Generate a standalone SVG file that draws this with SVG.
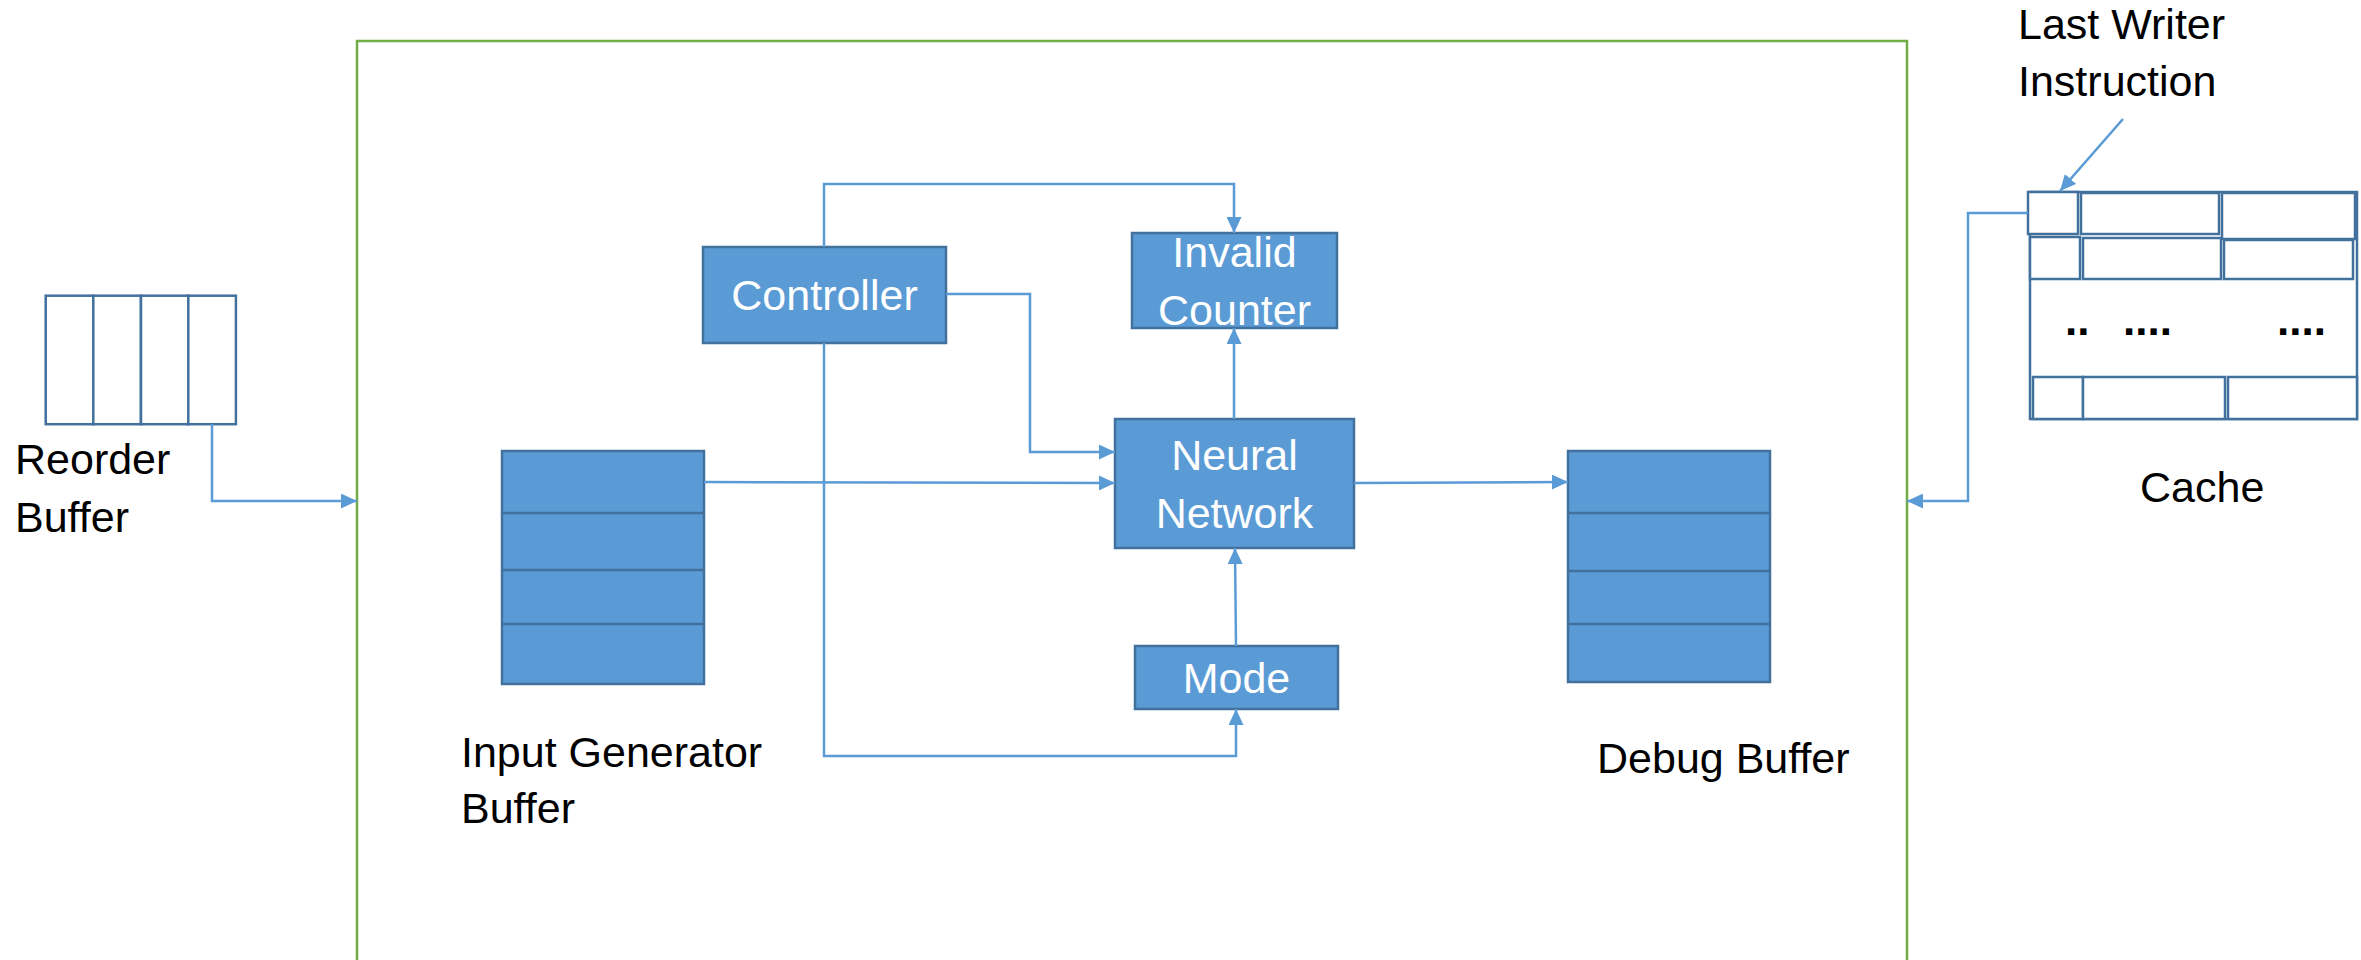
<svg xmlns="http://www.w3.org/2000/svg" width="2361" height="960" viewBox="0 0 2361 960">
<style>
  .lbl { font-family: "Liberation Sans", Arial, sans-serif; font-size: 43px; fill: #000; }
  .wl { font-family: "Liberation Sans", Arial, sans-serif; font-size: 43px; fill: #fff; text-anchor: middle; }
  .node { fill: #5B9BD5; stroke: #41719C; stroke-width: 2.5; }
  .cell { fill: #fff; stroke: #41719C; stroke-width: 2.5; }
  .div { stroke: #41719C; stroke-width: 2.5; fill: none; }
  .conn { fill: none; stroke: #5B9BD5; stroke-width: 2.5; marker-end: url(#arr); }
  .dots { font-family: "Liberation Sans", Arial, sans-serif; font-size: 44px; font-weight: bold; fill: #000; }
</style>
<defs>
  <marker id="arr" markerUnits="userSpaceOnUse" markerWidth="16" markerHeight="15" viewBox="0 0 16 15" refX="16" refY="7.5" orient="auto">
    <path d="M0,0 L16,7.5 L0,15 z" fill="#5B9BD5"/>
  </marker>
</defs>
<rect width="2361" height="960" fill="#fff"/>

<g id="frame">
  <path d="M357,1000 L357,41 L1907,41 L1907,1000" fill="none" stroke="#70AD47" stroke-width="2.5"/>
</g>

<g id="reorder-buffer">
  <rect class="cell" x="45.7" y="295.7" width="47.6" height="128.5"/>
  <rect class="cell" x="93.3" y="295.7" width="47.6" height="128.5"/>
  <rect class="cell" x="141" y="295.7" width="47.6" height="128.5"/>
  <rect class="cell" x="188.3" y="295.7" width="47.6" height="128.5"/>
  <text class="lbl" x="15" y="474">Reorder</text>
  <text class="lbl" x="15" y="532">Buffer</text>
</g>

<g id="cache">
  <rect class="cell" x="2030" y="192" width="327" height="227"/>
  <rect class="cell" x="2028" y="192" width="50" height="42"/>
  <rect class="cell" x="2081" y="193" width="138" height="41"/>
  <rect class="cell" x="2222" y="193" width="133" height="46"/>
  <rect class="cell" x="2030" y="237" width="50" height="42"/>
  <rect class="cell" x="2083" y="238" width="138" height="41"/>
  <rect class="cell" x="2224" y="240" width="129" height="39"/>
  <rect class="cell" x="2033" y="377" width="50" height="42"/>
  <rect class="cell" x="2083" y="377" width="142" height="42"/>
  <rect class="cell" x="2228" y="377" width="129" height="42"/>
  <text class="dots" x="2065" y="335">..</text>
  <text class="dots" x="2123" y="335">....</text>
  <text class="dots" x="2277" y="335">....</text>
  <text class="lbl" x="2140" y="502">Cache</text>
</g>

<g id="last-writer-label">
  <text class="lbl" x="2018" y="39">Last Writer</text>
  <text class="lbl" x="2018" y="96">Instruction</text>
</g>

<g id="input-generator-buffer">
  <rect class="node" x="502" y="451" width="202" height="233"/>
  <path class="div" d="M502,513 H704 M502,570 H704 M502,624 H704"/>
  <text class="lbl" x="461" y="767">Input Generator</text>
  <text class="lbl" x="461" y="823">Buffer</text>
</g>

<g id="debug-buffer">
  <rect class="node" x="1568" y="451" width="202" height="231"/>
  <path class="div" d="M1568,513 H1770 M1568,571 H1770 M1568,624 H1770"/>
  <text class="lbl" x="1597" y="773">Debug Buffer</text>
</g>

<g id="controller">
  <rect class="node" x="703" y="247" width="243" height="96"/>
  <text class="wl" x="824.5" y="310">Controller</text>
</g>

<g id="invalid-counter">
  <rect class="node" x="1132" y="233" width="205" height="95"/>
  <text class="wl" x="1234.5" y="267">Invalid</text>
  <text class="wl" x="1234.5" y="325">Counter</text>
</g>

<g id="neural-network">
  <rect class="node" x="1115" y="419" width="239" height="129"/>
  <text class="wl" x="1234.5" y="470">Neural</text>
  <text class="wl" x="1234.5" y="528">Network</text>
</g>

<g id="mode">
  <rect class="node" x="1135" y="646" width="203" height="63"/>
  <text class="wl" x="1236.5" y="693">Mode</text>
</g>

<g id="connectors">
  <path class="conn" d="M212,424 V501 H357"/>
  <path class="conn" d="M2028,213 H1968 V501 H1907"/>
  <path class="conn" d="M2123,119 L2060,191"/>
  <path class="conn" d="M824,247 V184 H1234 V233"/>
  <path class="conn" d="M946,294 H1030 V452 H1115"/>
  <path class="conn" d="M704,482 L1115,483"/>
  <path class="conn" d="M1234,419 V328"/>
  <path class="conn" d="M824,343 V756 H1236 V709"/>
  <path class="conn" d="M1236,646 L1235,548"/>
  <path class="conn" d="M1354,483 L1568,482"/>
</g>
</svg>
